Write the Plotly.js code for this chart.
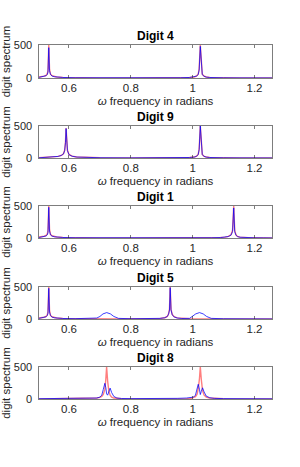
<!DOCTYPE html>
<html>
<head>
<meta charset="utf-8">
<script src="https://cdn.plot.ly/plotly-3.0.1.min.js"></script>
<style>html,body{margin:0;padding:0;background:#fff;}#chart{width:300px;height:467px;}</style>
</head>
<body>
<div id="chart"></div>
<script>
// ---- data ----
var digitTitles = ["Digit 4", "Digit 9", "Digit 1", "Digit 5", "Digit 8"];
var xTickVals = [0.6, 0.8, 1, 1.2];
var xTickText = ["0.6", "0.8", "1", "1.2"];
var yTickVals = [0, 500];
var yTickText = ["0", "500"];

var d4_x = [0.503,0.512,0.520,0.526,0.530,0.532,0.5346,0.537,0.540,0.545,0.552,0.56,0.58,0.62,0.70,0.80,0.90,0.96,0.99,1.005,1.013,1.018,1.021,1.0247,1.028,1.031,1.036,1.044,1.055,1.07,1.10,1.15,1.20,1.2566];
var d4_red = [15,20,28,40,70,110,500,140,60,35,22,15,8,4,2,1,2,4,8,15,30,60,140,500,140,60,30,15,8,5,3,2,1,1];
var d4_blue = [10,18,25,35,55,90,460,110,55,30,20,14,8,4,2,1,2,4,8,14,28,55,120,480,120,55,28,14,8,5,3,2,1,1];

var d9_x = [0.503,0.53,0.55,0.565,0.575,0.582,0.586,0.5886,0.5906,0.5926,0.595,0.60,0.61,0.625,0.65,0.70,0.80,0.90,0.96,0.99,1.005,1.013,1.018,1.021,1.0247,1.028,1.031,1.036,1.044,1.055,1.07,1.10,1.15,1.2566];
var d9_red = [3,8,15,25,40,65,120,250,470,260,120,55,30,15,8,4,2,2,4,8,15,30,60,140,500,140,60,30,15,8,5,3,2,1];
var d9_blue = [3,8,15,25,40,62,115,240,460,250,115,52,28,15,8,4,2,2,4,8,14,28,55,130,500,130,55,28,14,8,5,3,2,1];

var d1_x = [0.503,0.512,0.520,0.526,0.530,0.532,0.5346,0.537,0.540,0.545,0.552,0.56,0.58,0.62,0.70,0.80,0.90,1.00,1.06,1.09,1.105,1.115,1.124,1.129,1.1328,1.136,1.140,1.145,1.153,1.165,1.18,1.20,1.23,1.2566];
var d1_red = [15,20,28,40,70,110,500,140,60,35,22,15,8,4,2,1,1,2,4,8,14,25,50,120,500,120,50,25,14,8,5,3,2,1];
var d1_blue = [8,14,22,32,50,85,480,110,50,30,20,14,8,4,2,1,1,2,4,7,12,22,45,100,470,100,45,22,12,7,5,3,2,1];

var d5_x = [0.503,0.512,0.520,0.526,0.530,0.532,0.5346,0.537,0.540,0.545,0.552,0.56,0.58,0.62,0.66,0.69,0.70,0.71,0.722,0.734,0.745,0.76,0.80,0.86,0.895,0.91,0.918,0.922,0.925,0.9273,0.930,0.934,0.94,0.95,0.965,0.99,1.00,1.01,1.022,1.034,1.045,1.06,1.10,1.15,1.2566];
var d5_red = [15,20,28,40,70,110,500,140,60,35,22,15,8,4,3,2,1,0,0,0,1,2,3,5,10,20,40,80,150,500,150,70,35,18,8,3,1,0,0,0,1,2,2,1,1];
var d5_blue = [10,18,25,35,55,90,480,110,55,30,20,14,8,5,8,15,40,80,100,80,40,10,4,5,10,20,40,75,140,490,140,65,32,16,8,10,40,80,100,80,40,10,4,2,1];

var d8_x = [0.503,0.55,0.60,0.64,0.67,0.69,0.70,0.706,0.711,0.716,0.719,0.7217,0.725,0.729,0.733,0.738,0.745,0.755,0.77,0.80,0.85,0.90,0.95,0.98,0.995,1.003,1.009,1.014,1.018,1.022,1.0247,1.028,1.032,1.037,1.044,1.055,1.07,1.10,1.15,1.2566];
var d8_red = [1,2,3,5,8,15,25,40,70,150,300,500,280,120,60,30,15,8,4,2,1,1,2,5,10,20,35,70,160,320,500,300,130,60,30,15,8,3,2,1];
var d8_blue = [5,8,12,15,20,15,30,60,150,245,180,80,60,140,170,100,40,15,8,6,5,8,10,15,20,30,60,150,230,150,70,120,175,110,45,20,10,6,4,3];

var series = [
  {x: d4_x, r: d4_red, b: d4_blue},
  {x: d9_x, r: d9_red, b: d9_blue},
  {x: d1_x, r: d1_red, b: d1_blue},
  {x: d5_x, r: d5_red, b: d5_blue},
  {x: d8_x, r: d8_red, b: d8_blue}
];

// ---- layout ----
var H = 467;
var plotPx = [[45, 78], [126, 158], [206, 238], [287, 319], [367, 399]];
var font = 'Liberation Sans, Arial, sans-serif';
var axColor = '#262626';

var traces = [];
var layout = {
  width: 300, height: 467,
  margin: {l: 39, r: 28, t: 0, b: 0},
  paper_bgcolor: '#fff', plot_bgcolor: '#fff',
  showlegend: false,
  font: {family: font, size: 11, color: axColor},
  annotations: []
};

series.forEach(function (s, i) {
  var n = i === 0 ? '' : String(i + 1);
  var xa = 'x' + n, ya = 'y' + n;
  traces.push({x: s.x, y: s.r, xaxis: xa, yaxis: ya, type: 'scatter', mode: 'lines',
    line: {color: 'rgba(255,40,40,0.6)', width: 1.4}, hoverinfo: 'skip'});
  traces.push({x: s.x, y: s.b, xaxis: xa, yaxis: ya, type: 'scatter', mode: 'lines',
    line: {color: 'rgba(0,0,255,0.85)', width: 0.9}, hoverinfo: 'skip'});
  var top = plotPx[i][0], bot = plotPx[i][1];
  var dom = [1 - bot / H, 1 - top / H];
  layout['xaxis' + n] = {
    anchor: ya, domain: [0, 1], range: [0.503, 1.2566],
    tickvals: xTickVals, ticktext: xTickText,
    ticks: 'inside', ticklen: 3, tickcolor: axColor, tickwidth: 0.6,
    showline: true, linecolor: axColor, linewidth: 0.6, mirror: 'ticks',
    showgrid: false, zeroline: false,
    tickfont: {family: font, size: 11.5, color: axColor},
    title: {text: '<i>ω</i> frequency in radians', font: {family: font, size: 11.5, color: axColor}, standoff: 3}
  };
  layout['yaxis' + n] = {
    anchor: xa, domain: dom, range: [0, 500],
    tickvals: yTickVals, ticktext: yTickText,
    ticks: 'inside', ticklen: 3, tickcolor: axColor, tickwidth: 0.6,
    showline: true, linecolor: axColor, linewidth: 0.6, mirror: 'ticks',
    showgrid: false, zeroline: false, ticklabelstandoff: 4,
    tickfont: {family: font, size: 11, color: axColor},
    title: {text: 'digit spectrum', font: {family: font, size: 11.5, color: axColor}, standoff: 2}
  };
  layout.annotations.push({
    text: '<b>' + digitTitles[i] + '</b>', xref: 'paper', yref: 'paper',
    x: 0.5, y: dom[1], xanchor: 'center', yanchor: 'bottom', yshift: 0,
    showarrow: false, font: {family: font, size: 12, color: '#000'}
  });
});

Plotly.newPlot('chart', traces, layout, {staticPlot: true, displayModeBar: false});
</script>
</body>
</html>
